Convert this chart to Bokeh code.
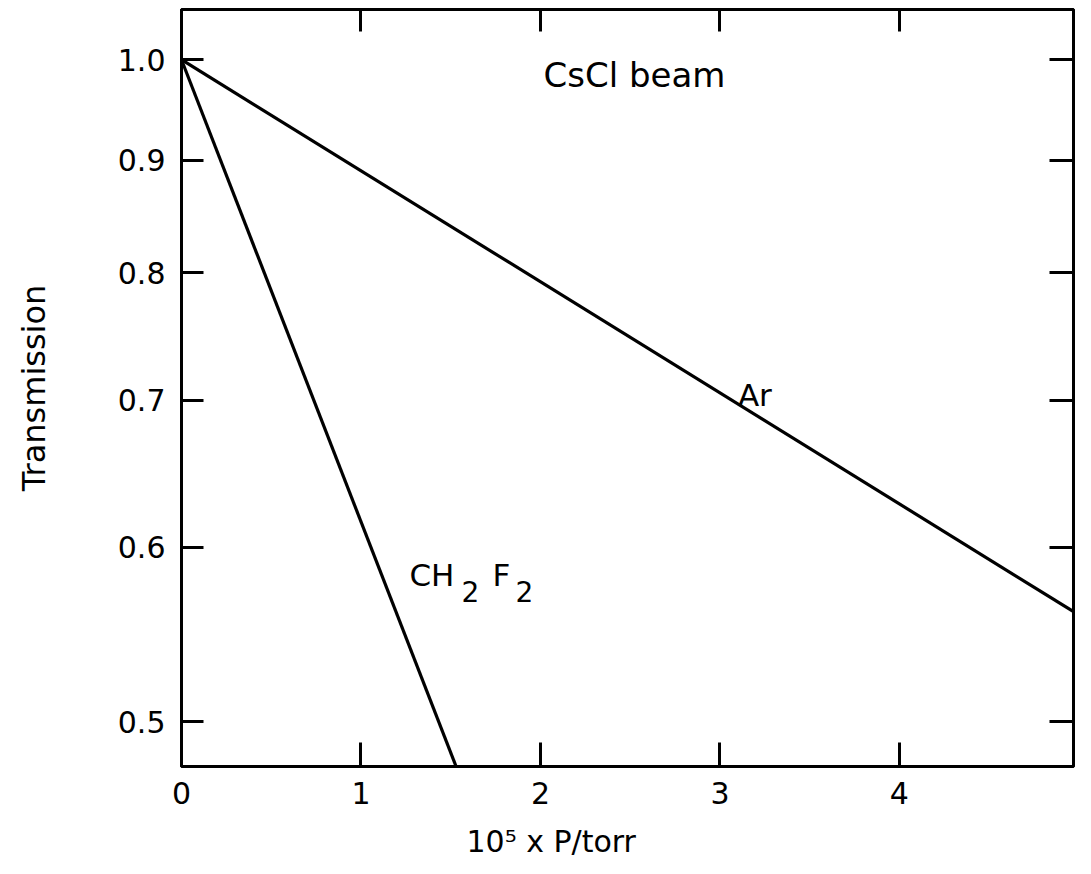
from bokeh.plotting import figure
from bokeh.models import (Range1d, FixedTicker, PrintfTickFormatter, LinearAxis, LogAxis, Label,
                          CustomJSTickFormatter)
from bokeh.embed import file_html
from bokeh.resources import INLINE

# ---- data ----
ar_x = [0.0, 4.97]
ar_y = [1.0, 0.561]
ch2f2_x = [0.0, 1.53]
ch2f2_y = [1.0, 0.477]

x_ticks = [0, 1, 2, 3, 4]
y_ticks = [0.5, 0.6, 0.7, 0.8, 0.9, 1.0]

FONT = "DejaVu Sans"

p = figure(width=1081, height=866, output_backend="svg", toolbar_location=None,
           y_axis_type="log",
           x_range=Range1d(0, 4.97), y_range=Range1d(0.477, 1.054),
           min_border_left=181, min_border_right=8, min_border_top=9, min_border_bottom=100)

p.background_fill_color = "white"
p.border_fill_color = "white"
p.outline_line_color = "black"
p.outline_line_width = 3
p.xgrid.grid_line_color = None
p.ygrid.grid_line_color = None

p.line(ar_x, ar_y, line_color="black", line_width=3.2)
p.line(ch2f2_x, ch2f2_y, line_color="black", line_width=3.2)

# bottom axis
xa = p.xaxis[0]
xa.ticker = FixedTicker(ticks=x_ticks)
xa.major_tick_in = 24
xa.major_tick_out = 0
xa.minor_tick_line_color = None
xa.major_tick_line_width = 3
xa.axis_line_width = 3
xa.major_label_text_font = FONT
xa.major_label_text_font_size = "30px"
xa.major_label_text_color = "black"
xa.major_label_standoff = 15
# the reference title sits left of the frame centre; pad with no-break spaces
xa.axis_label = "10\u2075 x P/torr" + "\u00a0" * 16
xa.axis_label_text_font = FONT
xa.axis_label_text_font_size = "30px"
xa.axis_label_text_font_style = "normal"
xa.axis_label_text_color = "black"
xa.axis_label_standoff = 17

# left axis
ya = p.yaxis[0]
ya.ticker = FixedTicker(ticks=y_ticks)
ya.formatter = PrintfTickFormatter(format="%.1f")
ya.major_tick_in = 22
ya.major_tick_out = 0
ya.minor_tick_line_color = None
ya.major_tick_line_width = 3
ya.axis_line_width = 3
ya.major_label_text_font = FONT
ya.major_label_text_font_size = "30px"
ya.major_label_text_color = "black"
ya.major_label_standoff = 16
ya.axis_label = "Transmission"
ya.axis_label_text_font = FONT
ya.axis_label_text_font_size = "32px"
ya.axis_label_text_font_style = "normal"
ya.axis_label_text_color = "black"
ya.axis_label_standoff = 62

blank = CustomJSTickFormatter(code="return ''")

# top axis: ticks only
top = LinearAxis(ticker=FixedTicker(ticks=x_ticks), formatter=blank,
                 major_tick_in=22, major_tick_out=0,
                 minor_tick_line_color=None, major_tick_line_width=3, axis_line_width=3,
                 major_label_standoff=0)
p.add_layout(top, "above")

# right axis: ticks only
right = LogAxis(ticker=FixedTicker(ticks=y_ticks), formatter=blank,
                major_tick_in=24, major_tick_out=0,
                minor_tick_line_color=None, major_tick_line_width=3, axis_line_width=3,
                major_label_standoff=0)
p.add_layout(right, "right")

# annotations
p.add_layout(Label(x=2.017, y=0.984, text="CsCl beam", text_font=FONT, text_font_size="34px",
                   text_baseline="middle", text_color="black"))
p.add_layout(Label(x=3.10, y=0.704, text="Ar", text_font=FONT, text_font_size="31px",
                   text_baseline="middle", text_color="black"))
# CH2F2 with full-size lowered subscripts
p.add_layout(Label(x=1.27, y=0.583, text="CH", text_font=FONT, text_font_size="31px",
                   text_baseline="alphabetic", text_color="black"))
p.add_layout(Label(x=1.56, y=0.573, text="2", text_font=FONT, text_font_size="28px",
                   text_baseline="alphabetic", text_color="black"))
p.add_layout(Label(x=1.733, y=0.583, text="F", text_font=FONT, text_font_size="31px",
                   text_baseline="alphabetic", text_color="black"))
p.add_layout(Label(x=1.861, y=0.573, text="2", text_font=FONT, text_font_size="28px",
                   text_baseline="alphabetic", text_color="black"))

open("out.html", "w").write(file_html(p, INLINE))
